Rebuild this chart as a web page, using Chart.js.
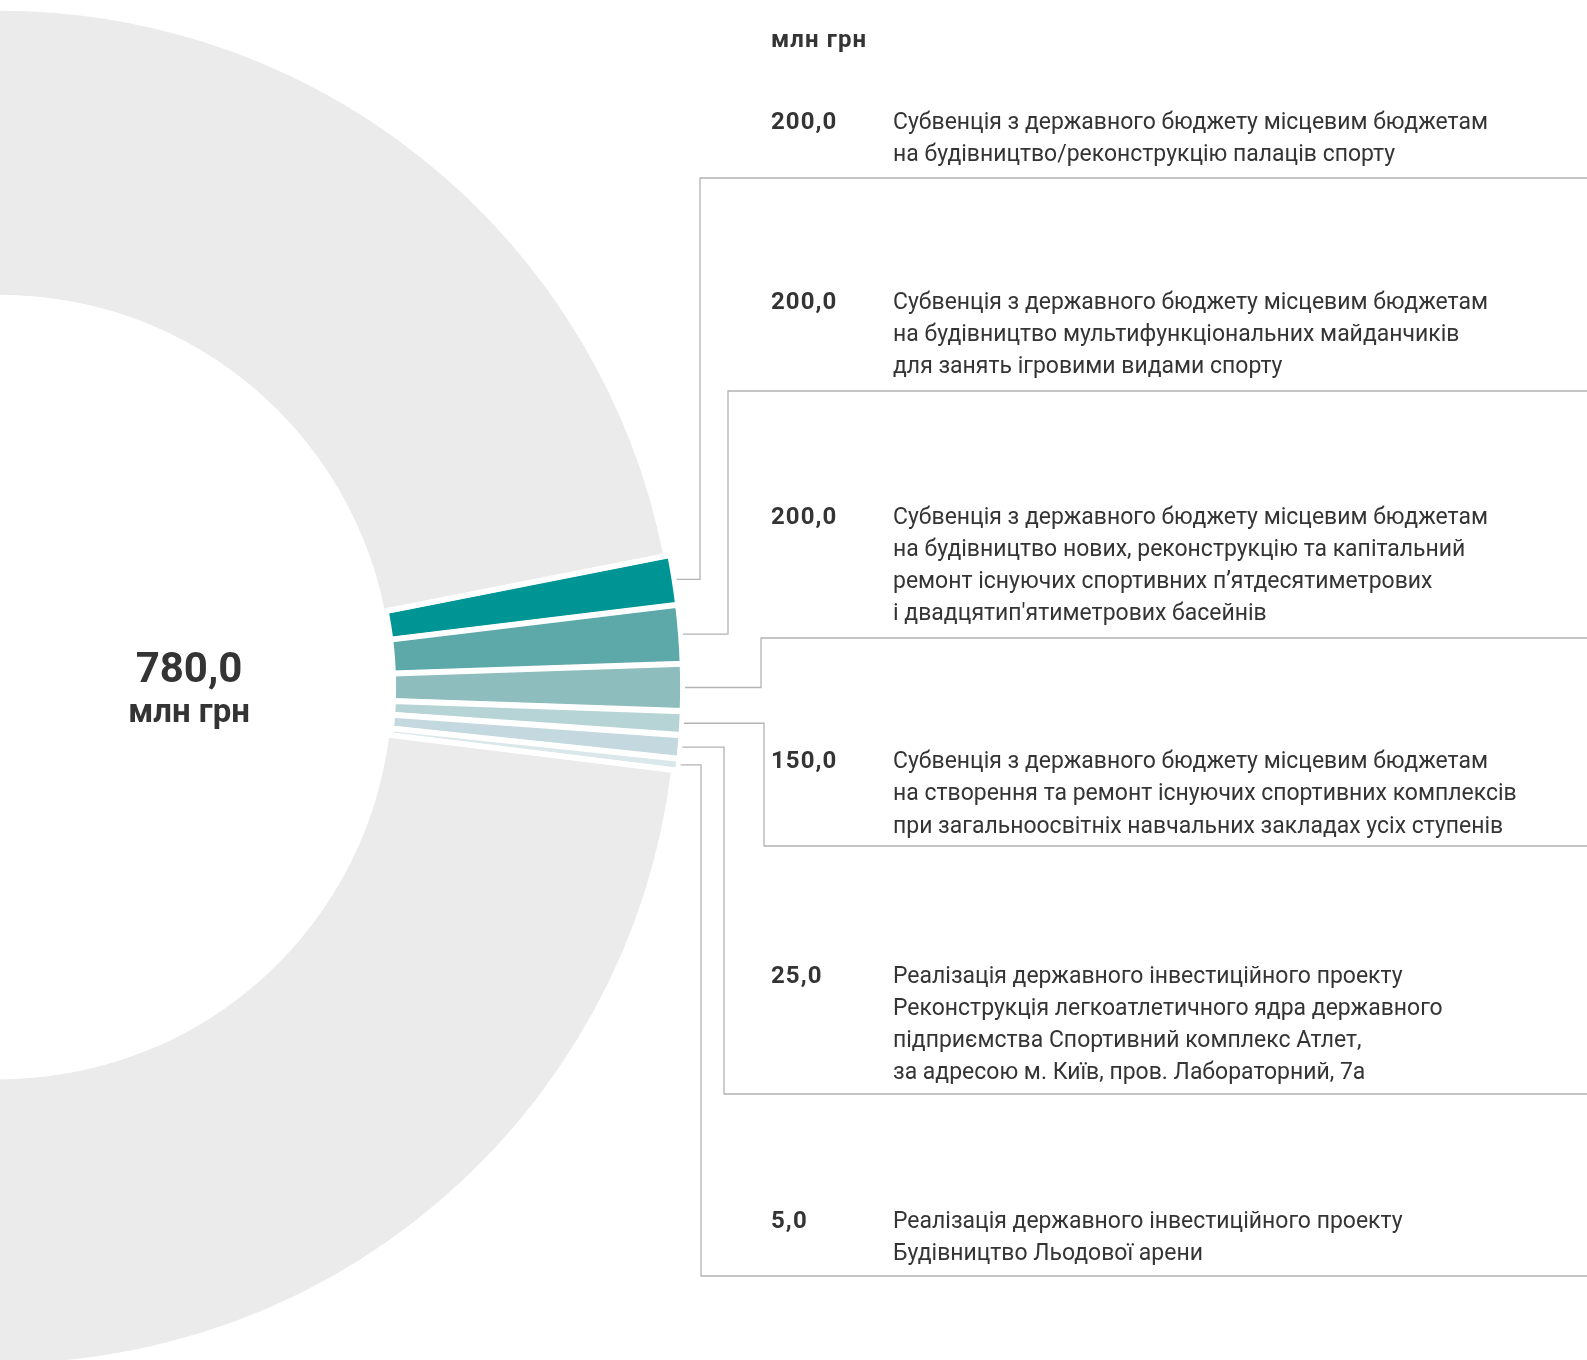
<!DOCTYPE html>
<html>
<head>
<meta charset="utf-8">
<script src="https://cdn.jsdelivr.net/npm/chart.js@4.4.0/dist/chart.umd.min.js"></script>
<style>
  html, body { margin: 0; padding: 0; background: #fff; overflow: hidden; width: 1587px; height: 1360px; }
  #wrap { position: absolute; left: -1587px; top: 0; }
</style>
</head>
<body>
<div id="wrap"><canvas id="chart" width="3174" height="1374"></canvas></div>
<script>
// amounts, mln UAH (as printed)
const amounts = ["200,0", "200,0", "200,0", "150,0", "25,0", "5,0"];
// slice sizes as drawn in the picture, degrees of the ring
const sliceDegrees = [4.23, 4.97, 3.98, 2.01, 1.99, 1.01];
// the grey rest of the ring, degrees
const otherDegrees = 341.81;
const totalLabel = "780,0";
const unitLabel = "млн грн";

const descriptions = [
  ["Субвенція з державного бюджету місцевим бюджетам",
   "на будівництво/реконструкцію палаців спорту"],
  ["Субвенція з державного бюджету місцевим бюджетам",
   "на будівництво мультифункціональних майданчиків",
   "для занять ігровими видами спорту"],
  ["Субвенція з державного бюджету місцевим бюджетам",
   "на будівництво нових, реконструкцію та капітальний",
   "ремонт існуючих спортивних п’ятдесятиметрових",
   "і двадцятип'ятиметрових басейнів"],
  ["Субвенція з державного бюджету місцевим бюджетам",
   "на створення та ремонт існуючих спортивних комплексів",
   "при загальноосвітніх навчальних закладах усіх ступенів"],
  ["Реалізація державного інвестиційного проекту",
   "Реконструкція легкоатлетичного ядра державного",
   "підприємства Спортивний комплекс Атлет,",
   "за адресою м. Київ, пров. Лабораторний, 7а"],
  ["Реалізація державного інвестиційного проекту",
   "Будівництво Льодової арени"]
];

const sliceColors = ["#009595", "#5da8a8", "#8ebdbd", "#b6d4d6", "#c4d8df", "#dbe8eb"];
const greyColor = "#ebebeb";
const textColor = "#343434";
const lineColor = "#b3b3b3";

// layout (page pixels)
const numX = 771, descX = 893;
const firstBaseline = [128.5, 308.5, 523.5, 768, 982.5, 1228];
const lineHeight = 32.3;
const elbowX = [700, 728, 761, 764, 724, 701];
const ruleY = [178, 391, 638, 846, 1094, 1276];

const calloutPlugin = {
  id: "callouts",
  afterDraw(chart) {
    const ctx = chart.ctx;
    const arcs = chart.getDatasetMeta(0).data;
    const cx = arcs[0].x, cy = arcs[0].y;
    const right = chart.width - cx;
    ctx.save();
    ctx.translate(cx, 0);

    // leader lines
    ctx.strokeStyle = lineColor;
    ctx.lineWidth = 1.3;
    for (let i = 0; i < amounts.length; i++) {
      const a = arcs[i].getProps(["startAngle", "endAngle", "outerRadius"], true);
      const mid = (a.startAngle + a.endAngle) / 2;
      const r = a.outerRadius + 6;
      const sx = Math.cos(mid) * r;
      const sy = cy + Math.sin(mid) * r;
      ctx.beginPath();
      ctx.moveTo(sx, sy);
      ctx.lineTo(elbowX[i], sy);
      ctx.lineTo(elbowX[i], ruleY[i]);
      ctx.lineTo(right, ruleY[i]);
      ctx.stroke();
    }

    // text
    ctx.fillStyle = textColor;
    ctx.textBaseline = "alphabetic";
    ctx.textAlign = "left";

    ctx.font = "normal 24px Roboto";
    const target = 595;
    const scaleX = target / ctx.measureText(descriptions[0][0]).width;

    const boldText = (str, x, y) => {
      ctx.font = "bold 24px Roboto";
      ctx.letterSpacing = "1.1px";
      ctx.fillText(str, x, y);
      ctx.letterSpacing = "0px";
    };

    boldText(unitLabel, numX, 47);

    for (let i = 0; i < amounts.length; i++) {
      boldText(amounts[i], numX, firstBaseline[i]);
      ctx.font = "normal 24px Roboto";
      descriptions[i].forEach((line, k) => {
        ctx.save();
        ctx.translate(descX, firstBaseline[i] + k * lineHeight);
        ctx.scale(scaleX, 1);
        ctx.fillText(line, 0, 0);
        ctx.restore();
      });
    }

    // centre total
    ctx.textAlign = "center";
    ctx.font = "bold 42px Roboto";
    ctx.fillText(totalLabel, 189, 682);
    ctx.font = "bold 33px Roboto";
    ctx.fillText(unitLabel, 189, 722);

    ctx.restore();
  }
};

new Chart(document.getElementById("chart"), {
  type: "doughnut",
  data: {
    labels: descriptions.map(d => d[0]).concat(["інше"]),
    datasets: [{
      data: sliceDegrees.concat([otherDegrees]),
      backgroundColor: sliceColors.concat([greyColor]),
      borderColor: "#ffffff",
      borderWidth: 5.5,
      borderJoinStyle: "miter",
      offset: [8, 8, 8, 8, 8, 8, 0],
      hoverOffset: 0
    }]
  },
  options: {
    responsive: false,
    animation: false,
    events: [],
    rotation: 78.85,
    radius: 679,
    cutout: "57.36%",
    layout: { padding: 0 },
    plugins: {
      legend: { display: false },
      tooltip: { enabled: false }
    }
  },
  plugins: [calloutPlugin]
});
</script>
</body>
</html>
